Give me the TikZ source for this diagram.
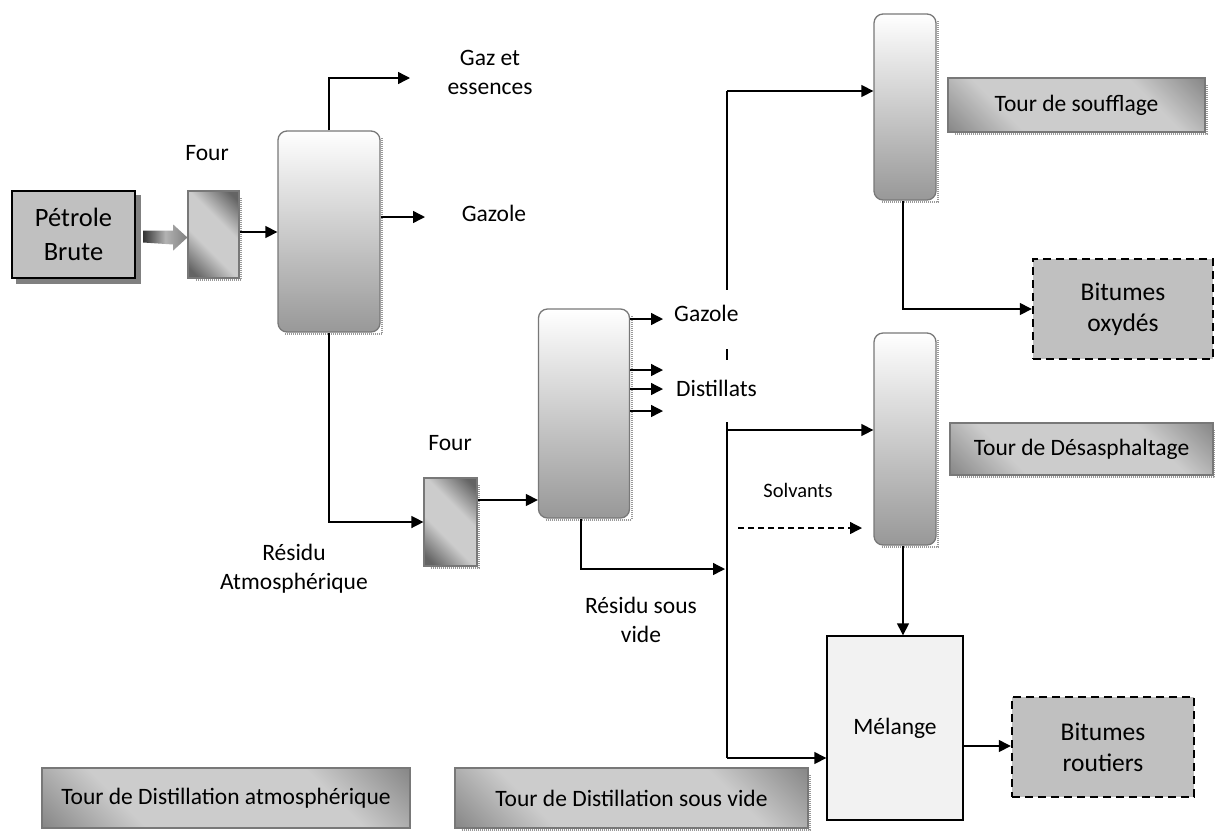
\documentclass[tikz,border=0pt]{standalone}
\usepackage{fontspec}
\setmainfont{Carlito}
\usetikzlibrary{arrows.meta,calc}
\definecolor{boxgray}{RGB}{192,192,192}
\definecolor{edgegray}{RGB}{120,120,120}
\definecolor{darkg}{RGB}{100,100,100}
\definecolor{lightg}{RGB}{204,204,204}
\definecolor{towbot}{RGB}{152,152,152}
\definecolor{mixfill}{RGB}{242,242,242}
\pgfdeclareverticalshading{plateau}{100bp}{color(0bp)=(darkg); color(20bp)=(darkg); color(40bp)=(lightg); color(60bp)=(lightg); color(80bp)=(darkg); color(100bp)=(darkg)}
\pgfdeclareverticalshading{tagshade}{100bp}{color(0bp)=(darkg); color(6bp)=(darkg); color(32bp)=(lightg); color(68bp)=(lightg); color(94bp)=(darkg); color(100bp)=(darkg)}
\pgfdeclarelayer{bg}
\pgfsetlayers{bg,main}
\begin{document}
\begin{tikzpicture}[x=1pt,y=-1pt,
  txt/.style={font=\fontsize{23.5}{29}\selectfont, align=center, inner sep=0pt},
  smalltxt/.style={font=\fontsize{20.5}{25}\selectfont, align=center, inner sep=0pt},
  flow/.style={line width=1.4pt, -{Triangle[length=12pt,width=12pt]}},
  plain/.style={line width=1.4pt},
  tower/.style={draw=edgegray, line width=1.3pt, rounded corners=9pt, top color=white, bottom color=towbot, inner sep=0pt},
  furnace/.style={draw=edgegray, line width=1.2pt, shading=plateau, shading angle=-45, inner sep=0pt},
  tag/.style={draw=edgegray, line width=1.5pt, shading=tagshade, shading angle=-45, inner sep=0pt, font=\fontsize{23.5}{29}\selectfont},
  stone/.style={draw=black, line width=2.4pt, fill=boxgray, inner sep=0pt, align=center, font=\fontsize{26.5}{34}\selectfont},
  product/.style={draw=black, line width=2.4pt, dash pattern=on 8pt off 5pt, fill=boxgray, inner sep=0pt, align=center, font=\fontsize{25.5}{31}\selectfont},
  mixbox/.style={draw=black, line width=1.4pt, fill=mixfill, inner sep=0pt, font=\fontsize{23.5}{29}\selectfont},
  dsh/.style={draw=black!40, line width=2pt, dash pattern=on 1pt off 1pt}
]
\begin{pgfonlayer}{bg}
\fill[white] (0,0) rectangle (1215,831);
\end{pgfonlayer}
\useasboundingbox (0,0) rectangle (1215,831);

% main units
\node[stone, minimum width=123pt, minimum height=87pt] (petrole) at (73.5,234.5) {Pétrole\\Brute};
\node[furnace, minimum width=51pt, minimum height=87pt] (four1) at (213.5,234.5) {};
\node[tower, minimum width=102pt, minimum height=201pt] (t1) at (329,231.5) {};
\node[furnace, minimum width=53pt, minimum height=88pt] (four2) at (450.5,522) {};
\node[tower, minimum width=91pt, minimum height=209pt] (t2) at (584,413.5) {};
\node[tower, minimum width=62pt, minimum height=186pt] (t3) at (905,107) {};
\node[tower, minimum width=62pt, minimum height=212pt] (t4) at (905,439) {};
\node[mixbox, minimum width=136pt, minimum height=184pt] (melange) at (895,728) {Mélange};
\node[product, minimum width=180pt, minimum height=100pt] (oxydes) at (1123,309) {Bitumes\\oxydés};
\node[product, minimum width=182pt, minimum height=100pt] (routiers) at (1103,747) {Bitumes\\routiers};

% tags
\node[tag, minimum width=257pt, minimum height=54pt] (tsouf) at (1076.5,105) {Tour de soufflage};
\node[tag, minimum width=263pt, minimum height=52pt] (tdesa) at (1081.5,449) {Tour de Désasphaltage};
\node[tag, minimum width=368pt, minimum height=60pt] (tatm) at (226,798) {Tour de Distillation atmosphérique};
\node[tag, minimum width=353pt, minimum height=60pt] (tvide) at (631.5,798) {Tour de Distillation sous vide};

% labels
\node[txt] (lfour1) at (207,153) {Four};
\node[txt] (lfour2) at (450,443) {Four};
\node[txt] (lgaz) at (490,72) {Gaz et\\essences};
\node[txt] (lgazole1) at (494,213) {Gazole};
\node[txt, anchor=west] (lgazole2) at (674,313) {Gazole};
\node[txt, anchor=west] (ldist) at (676,388) {Distillats};
\node[txt] (lresat) at (294,569) {Résidu\\Atmosphérique};
\node[txt] (lresv) at (641,620) {Résidu sous\\vide};
\node[smalltxt] (lsolv) at (798,490) {Solvants};

% shadows
\begin{pgfonlayer}{bg}
\fill[black!50] ([shift={(5,5)}]petrole.north west) rectangle ([shift={(5,5)}]petrole.south east);
\foreach \n in {four1,four2,t1,t2,t3,t4,tsouf,tdesa,tvide}{
  \draw[dsh] ([shift={(1.5,8)}]\n.north east) -- ([shift={(1.5,1.5)}]\n.south east) -- ([shift={(8,1.5)}]\n.south west);
}
\end{pgfonlayer}

% fat feed arrow
\shade[left color=black!80, right color=black!50, middle color=black!30]
  ($(petrole.east)+(7,-4)$) -- ++(30,0) -- ++(0,-6) -- ($(four1.west)+(0,3)$) -- ($(petrole.east)+(37,16)$) -- ++(0,-6) -- ($(petrole.east)+(7,8)$) -- cycle;

% coordinates
\coordinate (gazend) at (410,78);
\coordinate (g1end) at (425,217);
\coordinate (a1) at (0,232);
\coordinate (a2) at (0,500);
\coordinate (o1) at (663,319);
\coordinate (o2) at (663,370);
\coordinate (o3) at (663,389);
\coordinate (o4) at (663,411);
\coordinate (rsv) at (725,569);
\coordinate (v0) at (727,91);
\coordinate (v1) at (727,290);
\coordinate (v2) at (727,349);
\coordinate (v3) at (727,360);
\coordinate (v4) at (727,422);
\coordinate (v5) at (727,758);
\coordinate (v6) at (727,430);
\coordinate (s0) at (738,528);
\coordinate (s1) at (862,528);
\coordinate (m1) at (0,746);

% connectors
\draw[flow] (four1.east |- a1) -- (t1.west |- a1);
\draw[flow] (t1.north) |- (gazend);
\draw[flow] (t1.east |- g1end) -- (g1end);
\draw[flow] (t1.south) |- (four2.west);
\draw[flow] (four2.east |- a2) -- (t2.west |- a2);
\foreach \o in {o1,o2,o3,o4}{\draw[flow] (t2.east |- \o) -- (\o);}
\draw[flow] ([xshift=-3pt]t2.south) |- (rsv);
\draw[plain] (v0) -- (v1);
\draw[plain] (v2) -- (v3);
\draw[plain] (v4) -- (v5);
\draw[flow] (v0) -- (t3.west |- v0);
\draw[flow] (v6) -- (t4.west |- v6);
\draw[flow] (v5) -- (melange.west |- v5);
\draw[flow, dash pattern=on 6pt off 4pt] (s0) -- (s1);
\draw[flow] ([xshift=-2pt]t3.south) |- (oxydes.west);
\draw[flow] ([xshift=-2pt]t4.south) -- ([xshift=-2pt]t4.south |- melange.north);
\draw[flow] (melange.east |- m1) -- (routiers.west |- m1);
\end{tikzpicture}
\end{document}
